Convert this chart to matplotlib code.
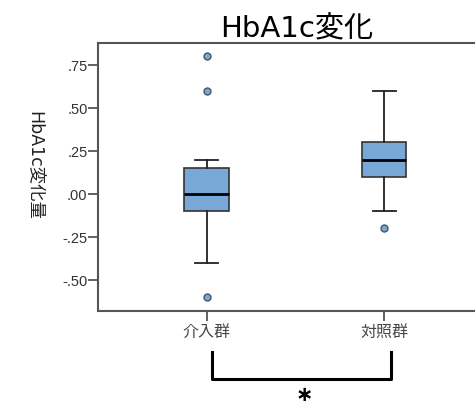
import matplotlib.pyplot as plt

plt.rcParams['font.family'] = ['Noto Sans CJK JP', 'DejaVu Sans']

groups = ['介入群', '対照群']
whisker_low = [-0.40, -0.10]
q1 = [-0.10, 0.10]
median = [0.00, 0.20]
q3 = [0.15, 0.30]
whisker_high = [0.20, 0.60]
outliers = [[0.80, 0.60, -0.60], [-0.20]]
yticks = [0.75, 0.50, 0.25, 0.00, -0.25, -0.50]

box_color = '#79a8d6'
line_color = '#222222'
spine_color = '#555555'
latin_cjk = ['DejaVu Sans', 'Noto Sans CJK JP']

stats = []
for i, g in enumerate(groups):
    stats.append({'label': g, 'whislo': whisker_low[i], 'q1': q1[i], 'med': median[i],
                  'q3': q3[i], 'whishi': whisker_high[i], 'fliers': outliers[i]})

fig = plt.figure(figsize=(4.75, 4.05), dpi=100)
ax = fig.add_axes([98 / 475, 94 / 405, 1 - 98 / 475, 268 / 405])

ax.bxp(stats, positions=[1, 2], widths=0.25, capwidths=0.13, patch_artist=True,
       boxprops=dict(facecolor=box_color, edgecolor='#333333', linewidth=1.2),
       medianprops=dict(color='black', linewidth=2),
       whiskerprops=dict(color=line_color, linewidth=1.3),
       capprops=dict(color=line_color, linewidth=1.3),
       flierprops=dict(marker='o', markersize=5, markerfacecolor=box_color,
                       markeredgecolor='#445566', markeredgewidth=1))

ax.set_xlim(0.388, 2.511)
ax.set_ylim(-0.680, 0.878)
ax.set_yticks(yticks)
ax.set_yticklabels([f'{v:.2f}'.replace('0.', '.') for v in yticks],
                   family='Liberation Sans', fontsize=10.5, color='#333333')
ax.set_xticks([1, 2])
ax.set_xticklabels(groups, fontsize=11.5, color='#444444')
ax.tick_params(axis='both', length=7, width=1.3, color=spine_color, direction='out')
ax.tick_params(axis='x', pad=2)
ax.tick_params(axis='y', pad=0.5)

ax.spines['right'].set_visible(False)
for s in ['left', 'top', 'bottom']:
    ax.spines[s].set_color(spine_color)
    ax.spines[s].set_linewidth(1.5)

ax.set_title('HbA1c変化', fontsize=21, pad=1, x=0.528, family=latin_cjk)
fig.text(35 / 475, 1 - 165 / 405, 'HbA1c変化量', rotation=-90, fontsize=12.5,
         ha='center', va='center', color='#222222', family=latin_cjk)

# significance bracket below the axis
ax.plot([1.03, 1.03, 2.04, 2.04], [-0.919, -1.076, -1.076, -0.919],
        color='black', linewidth=2.2, clip_on=False)
fig.text(304 / 475, 0.0, '∗', fontsize=15, ha='center', va='bottom',
         fontweight='bold', family='DejaVu Sans')

fig.savefig('out.png', dpi=100)
